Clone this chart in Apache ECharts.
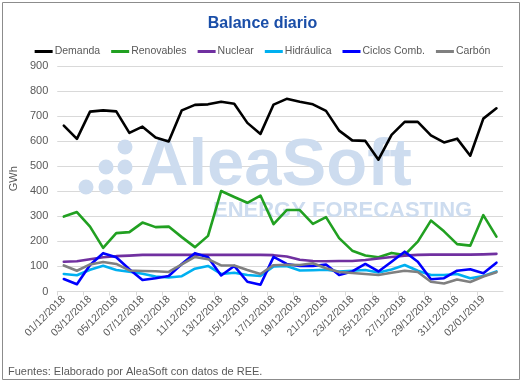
<!DOCTYPE html>
<html>
<head>
<meta charset="utf-8">
<script src="https://cdn.jsdelivr.net/npm/echarts@6/dist/echarts.min.js"></script>
<style>html,body{margin:0;padding:0;background:#fff}#c{width:525px;height:384px}</style>
</head>
<body>
<div id="c"></div>
<script>
const categories = [
 '01/12/2018','02/12/2018','03/12/2018','04/12/2018','05/12/2018','06/12/2018','07/12/2018','08/12/2018',
 '09/12/2018','10/12/2018','11/12/2018','12/12/2018','13/12/2018','14/12/2018','15/12/2018','16/12/2018',
 '17/12/2018','18/12/2018','19/12/2018','20/12/2018','21/12/2018','22/12/2018','23/12/2018','24/12/2018',
 '25/12/2018','26/12/2018','27/12/2018','28/12/2018','29/12/2018','30/12/2018','31/12/2018','01/01/2019',
 '02/01/2019','03/01/2019'];
const demanda = [662,609,718,723,719,633,658,615,599,723,745,747,757,749,673,629,746,769,757,747,721,642,603,601,526,625,677,677,623,595,610,542,690,731];
const renovables = [299,317,259,174,233,237,275,257,259,217,177,222,401,377,354,383,269,325,325,270,297,213,163,144,137,154,146,199,283,240,189,183,305,219];
const nuclear = [119,121,129,137,141,143,146,146,146,146,146,146,146,146,146,146,145,140,127,122,121,122,122,126,132,138,143,146,147,147,147,147,148,150];
const hidraulica = [70,65,87,103,86,79,71,60,56,61,91,102,70,75,66,62,100,102,84,85,87,80,83,86,76,88,106,83,66,66,70,53,62,80];
const ciclos = [50,29,106,153,137,89,46,53,62,110,153,137,64,102,39,27,138,110,102,102,108,66,80,110,80,119,159,119,49,53,83,89,73,115];
const carbon = [104,83,108,118,110,84,82,81,78,108,138,129,104,104,86,70,105,107,106,113,93,78,74,70,66,75,83,78,39,32,48,38,60,77];

const seriesNames = ['Demanda','Renovables','Nuclear','Hidráulica','Ciclos Comb.','Carbón'];
const seriesData = [demanda, renovables, nuclear, hidraulica, ciclos, carbon];
const colors = ['#000000','#21a021','#7030a0','#00b0f0','#0000ff','#808080'];

const FONT = 'Liberation Sans';
const wm = '#cddcef';

const chart = echarts.init(document.getElementById('c'), null, {renderer:'canvas'});
chart.setOption({
  animation: false,
  color: colors,
  title: {
    text: 'Balance diario', left: 'center', top: 11,
    textStyle: {color:'#1a4ea8', fontSize:16, fontWeight:'bold', fontFamily: FONT}
  },
  legend: {
    top: 41, left: 'center', icon: 'rect', itemWidth: 18, itemHeight: 3, itemGap: 11,
    textStyle: {color:'#595959', fontSize:10.5, fontFamily: FONT, padding:[0,0,0,-3]},
    data: seriesNames
  },
  grid: {left: 55, right: 22, top: 66, bottom: 92.5, containLabel: false},
  xAxis: {
    type: 'category', data: categories, boundaryGap: true,
    axisLine: {lineStyle: {color:'#d9d9d9', width:1}},
    axisTick: {show: true, interval: 1, length: 4, lineStyle: {color:'#d9d9d9'}},
    axisLabel: {interval: 1, rotate: 45, color:'#595959', fontSize: 10.5, fontFamily: FONT, margin: 6}
  },
  yAxis: {
    type: 'value', min: 0, max: 900, interval: 100,
    name: 'GWh', nameLocation: 'middle', nameGap: 31, nameRotate: 90,
    nameTextStyle: {color:'#595959', fontSize: 11, fontFamily: FONT},
    axisLine: {show:false}, axisTick: {show:false},
    axisLabel: {color:'#595959', fontSize: 11, fontFamily: FONT, margin: 9},
    splitLine: {lineStyle: {color:'#d9d9d9', width:1}}
  },
  graphic: [
    {type:'rect', shape:{x:2.5, y:2.5, width:517, height:377}, style:{fill:'none', stroke:'#8c8c8c', lineWidth:1}, z:0, silent:true},
    {type:'circle', shape:{cx:125, cy:147, r:7.5}, style:{fill:wm}, z:1, silent:true},
    {type:'circle', shape:{cx:106, cy:167, r:7.5}, style:{fill:wm}, z:1, silent:true},
    {type:'circle', shape:{cx:125, cy:167, r:7.5}, style:{fill:wm}, z:1, silent:true},
    {type:'circle', shape:{cx:86, cy:187, r:7.5}, style:{fill:wm}, z:1, silent:true},
    {type:'circle', shape:{cx:106, cy:187, r:7.5}, style:{fill:wm}, z:1, silent:true},
    {type:'circle', shape:{cx:125, cy:187, r:7.5}, style:{fill:wm}, z:1, silent:true},
    {type:'text', left:140, top:133, z:1, silent:true,
      style:{text:'AleaSoft', fill:wm, font:'bold 67px "Liberation Sans"'}},
    {type:'text', left:213, top:200, z:1, silent:true,
      style:{text:'ENERGY FORECASTING', fill:wm, font:'bold 22px "Liberation Sans"'}},
    {type:'text', left:8, top:366, z:1, silent:true,
      style:{text:'Fuentes: Elaborado por AleaSoft con datos de REE.', fill:'#595959', font:'11px "Liberation Sans"'}}
  ],
  series: seriesNames.map((n,i)=>({
    name: n, type: 'line', data: seriesData[i], symbol: 'none', z: 3,
    lineStyle: {width: 2.6, color: colors[i], join:'round', cap:'round'}
  }))
});
</script>
</body>
</html>
